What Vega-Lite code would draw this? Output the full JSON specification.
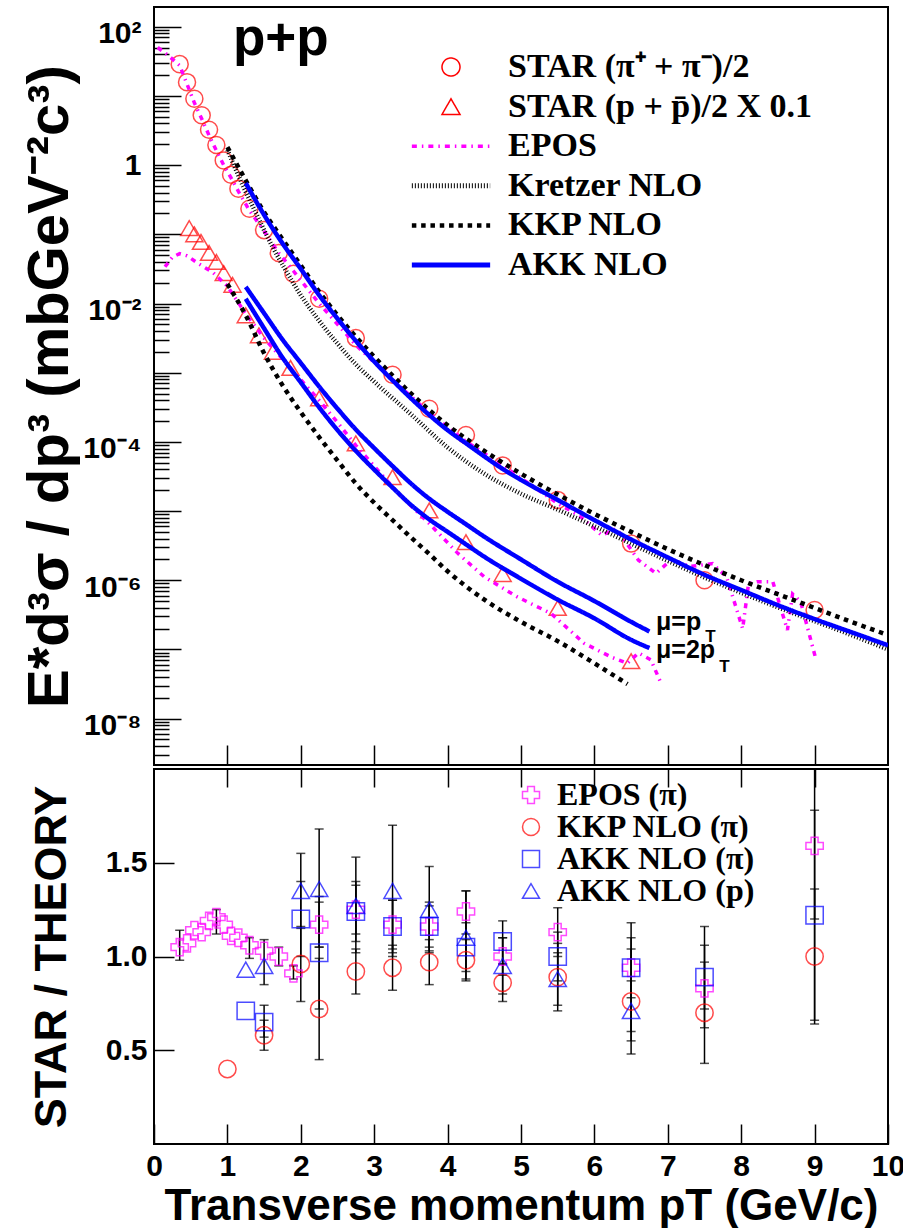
{
 "$schema": "https://vega.github.io/schema/vega-lite/v6.json",
 "background": "white",
 "padding": {"left": 20, "top": 6, "right": 15, "bottom": 0},
 "spacing": 0,
 "datasets": {
  "pts": [
   {"s":"STAR (π⁺ + π⁻)/2","x":0.35,"y":28.8},{"s":"STAR (π⁺ + π⁻)/2","x":0.45,"y":15.8},{"s":"STAR (π⁺ + π⁻)/2","x":0.55,"y":9.12},{"s":"STAR (π⁺ + π⁻)/2","x":0.65,"y":5.25},{"s":"STAR (π⁺ + π⁻)/2","x":0.75,"y":3.24},{"s":"STAR (π⁺ + π⁻)/2","x":0.85,"y":1.95},{"s":"STAR (π⁺ + π⁻)/2","x":0.95,"y":1.17},{"s":"STAR (π⁺ + π⁻)/2","x":1.05,"y":0.724},{"s":"STAR (π⁺ + π⁻)/2","x":1.15,"y":0.457},{"s":"STAR (π⁺ + π⁻)/2","x":1.3,"y":0.234},{"s":"STAR (π⁺ + π⁻)/2","x":1.5,"y":0.115},{"s":"STAR (π⁺ + π⁻)/2","x":1.7,"y":0.0537},{"s":"STAR (π⁺ + π⁻)/2","x":1.9,"y":0.0269},{"s":"STAR (π⁺ + π⁻)/2","x":2.25,"y":0.0117},{"s":"STAR (π⁺ + π⁻)/2","x":2.75,"y":0.00316},{"s":"STAR (π⁺ + π⁻)/2","x":3.25,"y":0.000933},{"s":"STAR (π⁺ + π⁻)/2","x":3.75,"y":0.000302},{"s":"STAR (π⁺ + π⁻)/2","x":4.25,"y":0.000126},{"s":"STAR (π⁺ + π⁻)/2","x":4.75,"y":0.0000457},{"s":"STAR (π⁺ + π⁻)/2","x":5.5,"y":0.0000145},{"s":"STAR (π⁺ + π⁻)/2","x":6.5,"y":0.00000339},{"s":"STAR (π⁺ + π⁻)/2","x":7.5,"y":0.000001},{"s":"STAR (π⁺ + π⁻)/2","x":9.0,"y":0.000000372},
   {"s":"STAR (p + p\u0304)/2 X 0.1","x":0.48,"y":0.123},{"s":"STAR (p + p\u0304)/2 X 0.1","x":0.55,"y":0.1},{"s":"STAR (p + p\u0304)/2 X 0.1","x":0.64,"y":0.0776},{"s":"STAR (p + p\u0304)/2 X 0.1","x":0.75,"y":0.0537},{"s":"STAR (p + p\u0304)/2 X 0.1","x":0.85,"y":0.0398},{"s":"STAR (p + p\u0304)/2 X 0.1","x":0.95,"y":0.0275},{"s":"STAR (p + p\u0304)/2 X 0.1","x":1.07,"y":0.0186},{"s":"STAR (p + p\u0304)/2 X 0.1","x":1.25,"y":0.00676},{"s":"STAR (p + p\u0304)/2 X 0.1","x":1.43,"y":0.00347},{"s":"STAR (p + p\u0304)/2 X 0.1","x":1.62,"y":0.002},{"s":"STAR (p + p\u0304)/2 X 0.1","x":1.86,"y":0.00117},{"s":"STAR (p + p\u0304)/2 X 0.1","x":2.25,"y":0.000427},{"s":"STAR (p + p\u0304)/2 X 0.1","x":2.75,"y":0.0000955},{"s":"STAR (p + p\u0304)/2 X 0.1","x":3.25,"y":0.0000309},{"s":"STAR (p + p\u0304)/2 X 0.1","x":3.75,"y":0.0000102},{"s":"STAR (p + p\u0304)/2 X 0.1","x":4.25,"y":0.00000355},{"s":"STAR (p + p\u0304)/2 X 0.1","x":4.75,"y":0.00000123},{"s":"STAR (p + p\u0304)/2 X 0.1","x":5.5,"y":0.000000398},{"s":"STAR (p + p\u0304)/2 X 0.1","x":6.5,"y":0.0000000676}
  ],
  "curves": [
   {"s":"EPOS","c":"epi","x":0.05,"y":50.1},{"s":"EPOS","c":"epi","x":0.1,"y":45.7},{"s":"EPOS","c":"epi","x":0.2,"y":38.0},{"s":"EPOS","c":"epi","x":0.35,"y":27.5},{"s":"EPOS","c":"epi","x":0.45,"y":14.8},{"s":"EPOS","c":"epi","x":0.55,"y":7.94},{"s":"EPOS","c":"epi","x":0.65,"y":4.68},{"s":"EPOS","c":"epi","x":0.75,"y":2.69},{"s":"EPOS","c":"epi","x":0.85,"y":1.62},{"s":"EPOS","c":"epi","x":0.95,"y":1.0},{"s":"EPOS","c":"epi","x":1.05,"y":0.653},{"s":"EPOS","c":"epi","x":1.15,"y":0.417},{"s":"EPOS","c":"epi","x":1.3,"y":0.221},{"s":"EPOS","c":"epi","x":1.5,"y":0.111},{"s":"EPOS","c":"epi","x":1.7,"y":0.0537},{"s":"EPOS","c":"epi","x":1.9,"y":0.0295},{"s":"EPOS","c":"epi","x":2.25,"y":0.01},{"s":"EPOS","c":"epi","x":2.75,"y":0.00251},{"s":"EPOS","c":"epi","x":3.25,"y":0.000794},{"s":"EPOS","c":"epi","x":3.75,"y":0.000263},{"s":"EPOS","c":"epi","x":4.25,"y":0.000102},{"s":"EPOS","c":"epi","x":4.75,"y":0.0000457},{"s":"EPOS","c":"epi","x":5.5,"y":0.0000129},{"s":"EPOS","c":"epi","x":5.8,"y":0.00000851},{"s":"EPOS","c":"epi","x":6.1,"y":0.00000447},{"s":"EPOS","c":"epi","x":6.3,"y":0.00000562},{"s":"EPOS","c":"epi","x":6.6,"y":0.00000195},{"s":"EPOS","c":"epi","x":6.84,"y":0.00000126},{"s":"EPOS","c":"epi","x":7.05,"y":0.000002},{"s":"EPOS","c":"epi","x":7.3,"y":0.00000158},{"s":"EPOS","c":"epi","x":7.61,"y":0.00000174},{"s":"EPOS","c":"epi","x":7.8,"y":0.00000112},{"s":"EPOS","c":"epi","x":8.02,"y":0.0000002},{"s":"EPOS","c":"epi","x":8.1,"y":0.000000891},{"s":"EPOS","c":"epi","x":8.22,"y":0.000000955},{"s":"EPOS","c":"epi","x":8.43,"y":0.000000955},{"s":"EPOS","c":"epi","x":8.63,"y":0.000000191},{"s":"EPOS","c":"epi","x":8.7,"y":0.000000631},{"s":"EPOS","c":"epi","x":8.81,"y":0.00000049},{"s":"EPOS","c":"epi","x":9.02,"y":0.0000000708},
   {"s":"EPOS","c":"ep","x":0.15,"y":0.0339},{"s":"EPOS","c":"ep","x":0.25,"y":0.0468},{"s":"EPOS","c":"ep","x":0.35,"y":0.0525},{"s":"EPOS","c":"ep","x":0.45,"y":0.049},{"s":"EPOS","c":"ep","x":0.6,"y":0.038},{"s":"EPOS","c":"ep","x":0.8,"y":0.0282},{"s":"EPOS","c":"ep","x":1.0,"y":0.0178},{"s":"EPOS","c":"ep","x":1.25,"y":0.00708},{"s":"EPOS","c":"ep","x":1.5,"y":0.00316},{"s":"EPOS","c":"ep","x":1.78,"y":0.00145},{"s":"EPOS","c":"ep","x":2.0,"y":0.000794},{"s":"EPOS","c":"ep","x":2.25,"y":0.000398},{"s":"EPOS","c":"ep","x":2.5,"y":0.000191},{"s":"EPOS","c":"ep","x":2.75,"y":0.0000891},{"s":"EPOS","c":"ep","x":3.0,"y":0.0000447},{"s":"EPOS","c":"ep","x":3.37,"y":0.0000162},{"s":"EPOS","c":"ep","x":3.75,"y":0.00000661},{"s":"EPOS","c":"ep","x":4.14,"y":0.00000245},{"s":"EPOS","c":"ep","x":4.5,"y":0.00000112},{"s":"EPOS","c":"ep","x":4.95,"y":0.000000575},{"s":"EPOS","c":"ep","x":5.41,"y":0.000000331},{"s":"EPOS","c":"ep","x":5.86,"y":0.000000123},{"s":"EPOS","c":"ep","x":6.23,"y":0.0000000776},{"s":"EPOS","c":"ep","x":6.45,"y":0.0000000631},{"s":"EPOS","c":"ep","x":6.6,"y":0.0000000891},{"s":"EPOS","c":"ep","x":6.77,"y":0.0000000708},{"s":"EPOS","c":"ep","x":6.9,"y":0.0000000339},
   {"s":"Kretzer NLO","c":"kr","x":1.0,"y":1.66},{"s":"Kretzer NLO","c":"kr","x":1.2,"y":0.537},{"s":"Kretzer NLO","c":"kr","x":1.4,"y":0.191},{"s":"Kretzer NLO","c":"kr","x":1.6,"y":0.0708},{"s":"Kretzer NLO","c":"kr","x":1.8,"y":0.0295},{"s":"Kretzer NLO","c":"kr","x":2.0,"y":0.0132},{"s":"Kretzer NLO","c":"kr","x":2.25,"y":0.00562},{"s":"Kretzer NLO","c":"kr","x":2.5,"y":0.00263},{"s":"Kretzer NLO","c":"kr","x":2.75,"y":0.00132},{"s":"Kretzer NLO","c":"kr","x":3.0,"y":0.000741},{"s":"Kretzer NLO","c":"kr","x":3.5,"y":0.000251},{"s":"Kretzer NLO","c":"kr","x":4.0,"y":0.0000832},{"s":"Kretzer NLO","c":"kr","x":4.5,"y":0.0000347},{"s":"Kretzer NLO","c":"kr","x":5.0,"y":0.0000178},{"s":"Kretzer NLO","c":"kr","x":5.5,"y":0.0000105},{"s":"Kretzer NLO","c":"kr","x":6.0,"y":0.00000603},{"s":"Kretzer NLO","c":"kr","x":6.5,"y":0.00000339},{"s":"Kretzer NLO","c":"kr","x":7.0,"y":0.00000191},{"s":"Kretzer NLO","c":"kr","x":7.5,"y":0.0000011},{"s":"Kretzer NLO","c":"kr","x":8.0,"y":0.000000661},{"s":"Kretzer NLO","c":"kr","x":8.5,"y":0.000000407},{"s":"Kretzer NLO","c":"kr","x":9.0,"y":0.000000257},{"s":"Kretzer NLO","c":"kr","x":9.5,"y":0.000000162},{"s":"Kretzer NLO","c":"kr","x":10.0,"y":0.0000001},
   {"s":"KKP NLO","c":"kpi","x":1.0,"y":1.82},{"s":"KKP NLO","c":"kpi","x":1.25,"y":0.603},{"s":"KKP NLO","c":"kpi","x":1.5,"y":0.209},{"s":"KKP NLO","c":"kpi","x":1.75,"y":0.0851},{"s":"KKP NLO","c":"kpi","x":2.0,"y":0.0355},{"s":"KKP NLO","c":"kpi","x":2.25,"y":0.0148},{"s":"KKP NLO","c":"kpi","x":2.5,"y":0.00676},{"s":"KKP NLO","c":"kpi","x":2.75,"y":0.00331},{"s":"KKP NLO","c":"kpi","x":3.0,"y":0.0017},{"s":"KKP NLO","c":"kpi","x":3.25,"y":0.000912},{"s":"KKP NLO","c":"kpi","x":3.5,"y":0.000501},{"s":"KKP NLO","c":"kpi","x":3.75,"y":0.000288},{"s":"KKP NLO","c":"kpi","x":4.0,"y":0.000174},{"s":"KKP NLO","c":"kpi","x":4.5,"y":0.0000741},{"s":"KKP NLO","c":"kpi","x":5.0,"y":0.0000347},{"s":"KKP NLO","c":"kpi","x":5.5,"y":0.0000174},{"s":"KKP NLO","c":"kpi","x":6.0,"y":0.00000912},{"s":"KKP NLO","c":"kpi","x":6.5,"y":0.00000501},{"s":"KKP NLO","c":"kpi","x":7.0,"y":0.00000282},{"s":"KKP NLO","c":"kpi","x":7.5,"y":0.00000166},{"s":"KKP NLO","c":"kpi","x":8.0,"y":0.000001},{"s":"KKP NLO","c":"kpi","x":8.5,"y":0.000000631},{"s":"KKP NLO","c":"kpi","x":9.0,"y":0.000000398},{"s":"KKP NLO","c":"kpi","x":9.5,"y":0.000000251},{"s":"KKP NLO","c":"kpi","x":10.0,"y":0.000000162},
   {"s":"KKP NLO","c":"kp","x":1.0,"y":0.0191},{"s":"KKP NLO","c":"kp","x":1.25,"y":0.00676},{"s":"KKP NLO","c":"kp","x":1.5,"y":0.00191},{"s":"KKP NLO","c":"kp","x":1.75,"y":0.000661},{"s":"KKP NLO","c":"kp","x":2.0,"y":0.000269},{"s":"KKP NLO","c":"kp","x":2.25,"y":0.000117},{"s":"KKP NLO","c":"kp","x":2.5,"y":0.0000537},{"s":"KKP NLO","c":"kp","x":2.75,"y":0.0000251},{"s":"KKP NLO","c":"kp","x":3.0,"y":0.0000132},{"s":"KKP NLO","c":"kp","x":3.25,"y":0.00000741},{"s":"KKP NLO","c":"kp","x":3.5,"y":0.00000417},{"s":"KKP NLO","c":"kp","x":3.75,"y":0.0000024},{"s":"KKP NLO","c":"kp","x":4.0,"y":0.00000135},{"s":"KKP NLO","c":"kp","x":4.5,"y":0.000000525},{"s":"KKP NLO","c":"kp","x":5.0,"y":0.000000251},{"s":"KKP NLO","c":"kp","x":5.5,"y":0.000000132},{"s":"KKP NLO","c":"kp","x":6.0,"y":0.0000000631},{"s":"KKP NLO","c":"kp","x":6.45,"y":0.0000000316},
   {"s":"AKK  NLO","c":"api","x":1.25,"y":0.55},{"s":"AKK  NLO","c":"api","x":1.5,"y":0.191},{"s":"AKK  NLO","c":"api","x":1.75,"y":0.0741},{"s":"AKK  NLO","c":"api","x":2.0,"y":0.0316},{"s":"AKK  NLO","c":"api","x":2.25,"y":0.0132},{"s":"AKK  NLO","c":"api","x":2.5,"y":0.00603},{"s":"AKK  NLO","c":"api","x":2.75,"y":0.00288},{"s":"AKK  NLO","c":"api","x":3.0,"y":0.00145},{"s":"AKK  NLO","c":"api","x":3.25,"y":0.000776},{"s":"AKK  NLO","c":"api","x":3.5,"y":0.000427},{"s":"AKK  NLO","c":"api","x":3.75,"y":0.000245},{"s":"AKK  NLO","c":"api","x":4.0,"y":0.000148},{"s":"AKK  NLO","c":"api","x":4.25,"y":0.0000955},{"s":"AKK  NLO","c":"api","x":4.5,"y":0.0000617},{"s":"AKK  NLO","c":"api","x":4.75,"y":0.0000407},{"s":"AKK  NLO","c":"api","x":5.0,"y":0.0000282},{"s":"AKK  NLO","c":"api","x":5.5,"y":0.0000145},{"s":"AKK  NLO","c":"api","x":6.0,"y":0.00000741},{"s":"AKK  NLO","c":"api","x":6.5,"y":0.00000389},{"s":"AKK  NLO","c":"api","x":7.0,"y":0.00000214},{"s":"AKK  NLO","c":"api","x":7.5,"y":0.0000012},{"s":"AKK  NLO","c":"api","x":8.0,"y":0.000000724},{"s":"AKK  NLO","c":"api","x":8.5,"y":0.000000437},{"s":"AKK  NLO","c":"api","x":9.0,"y":0.000000275},{"s":"AKK  NLO","c":"api","x":9.5,"y":0.000000178},{"s":"AKK  NLO","c":"api","x":10.0,"y":0.000000115},
   {"s":"AKK  NLO","c":"ap1","x":1.25,"y":0.0174},{"s":"AKK  NLO","c":"ap1","x":1.5,"y":0.00724},{"s":"AKK  NLO","c":"ap1","x":1.75,"y":0.00302},{"s":"AKK  NLO","c":"ap1","x":2.0,"y":0.00138},{"s":"AKK  NLO","c":"ap1","x":2.25,"y":0.000631},{"s":"AKK  NLO","c":"ap1","x":2.5,"y":0.000302},{"s":"AKK  NLO","c":"ap1","x":2.75,"y":0.000151},{"s":"AKK  NLO","c":"ap1","x":3.0,"y":0.0000813},{"s":"AKK  NLO","c":"ap1","x":3.25,"y":0.0000447},{"s":"AKK  NLO","c":"ap1","x":3.5,"y":0.0000251},{"s":"AKK  NLO","c":"ap1","x":3.75,"y":0.0000151},{"s":"AKK  NLO","c":"ap1","x":4.0,"y":0.00000977},{"s":"AKK  NLO","c":"ap1","x":4.25,"y":0.00000646},{"s":"AKK  NLO","c":"ap1","x":4.5,"y":0.00000427},{"s":"AKK  NLO","c":"ap1","x":5.0,"y":0.000002},{"s":"AKK  NLO","c":"ap1","x":5.5,"y":0.000000955},{"s":"AKK  NLO","c":"ap1","x":6.0,"y":0.000000501},{"s":"AKK  NLO","c":"ap1","x":6.5,"y":0.000000251},{"s":"AKK  NLO","c":"ap1","x":6.75,"y":0.000000182},
   {"s":"AKK  NLO","c":"ap2","x":1.25,"y":0.0117},{"s":"AKK  NLO","c":"ap2","x":1.5,"y":0.00437},{"s":"AKK  NLO","c":"ap2","x":1.75,"y":0.00166},{"s":"AKK  NLO","c":"ap2","x":2.0,"y":0.000724},{"s":"AKK  NLO","c":"ap2","x":2.25,"y":0.000316},{"s":"AKK  NLO","c":"ap2","x":2.5,"y":0.000148},{"s":"AKK  NLO","c":"ap2","x":2.75,"y":0.0000741},{"s":"AKK  NLO","c":"ap2","x":3.0,"y":0.0000398},{"s":"AKK  NLO","c":"ap2","x":3.25,"y":0.0000219},{"s":"AKK  NLO","c":"ap2","x":3.5,"y":0.0000123},{"s":"AKK  NLO","c":"ap2","x":3.75,"y":0.00000759},{"s":"AKK  NLO","c":"ap2","x":4.0,"y":0.00000501},{"s":"AKK  NLO","c":"ap2","x":4.25,"y":0.00000331},{"s":"AKK  NLO","c":"ap2","x":4.5,"y":0.00000219},{"s":"AKK  NLO","c":"ap2","x":5.0,"y":0.00000105},{"s":"AKK  NLO","c":"ap2","x":5.5,"y":0.000000525},{"s":"AKK  NLO","c":"ap2","x":6.0,"y":0.000000282},{"s":"AKK  NLO","c":"ap2","x":6.5,"y":0.000000138},{"s":"AKK  NLO","c":"ap2","x":6.75,"y":0.000000105}
  ],
  "ratio": [
   {"m":"EPOS (π)","x":0.35,"r":1.05},{"m":"EPOS (π)","x":0.45,"r":1.07},{"m":"EPOS (π)","x":0.55,"r":1.14},{"m":"EPOS (π)","x":0.65,"r":1.13},{"m":"EPOS (π)","x":0.75,"r":1.19},{"m":"EPOS (π)","x":0.85,"r":1.21},{"m":"EPOS (π)","x":0.95,"r":1.17},{"m":"EPOS (π)","x":1.05,"r":1.11},{"m":"EPOS (π)","x":1.15,"r":1.1},{"m":"EPOS (π)","x":1.3,"r":1.06},{"m":"EPOS (π)","x":1.5,"r":1.03},{"m":"EPOS (π)","x":1.7,"r":1.0},{"m":"EPOS (π)","x":1.9,"r":0.91},{"m":"EPOS (π)","x":2.25,"r":1.17},{"m":"EPOS (π)","x":2.75,"r":1.25},{"m":"EPOS (π)","x":3.25,"r":1.17},{"m":"EPOS (π)","x":3.75,"r":1.16},{"m":"EPOS (π)","x":4.25,"r":1.24},{"m":"EPOS (π)","x":4.75,"r":1.0},{"m":"EPOS (π)","x":5.5,"r":1.13},{"m":"EPOS (π)","x":6.5,"r":0.94},{"m":"EPOS (π)","x":7.5,"r":0.83},{"m":"EPOS (π)","x":9.0,"r":1.59},
   {"m":"KKP NLO (π)","x":1.0,"r":0.4},{"m":"KKP NLO (π)","x":1.5,"r":0.58},{"m":"KKP NLO (π)","x":2.0,"r":0.96},{"m":"KKP NLO (π)","x":2.25,"r":0.72},{"m":"KKP NLO (π)","x":2.75,"r":0.92},{"m":"KKP NLO (π)","x":3.25,"r":0.94},{"m":"KKP NLO (π)","x":3.75,"r":0.97},{"m":"KKP NLO (π)","x":4.25,"r":0.98},{"m":"KKP NLO (π)","x":4.75,"r":0.86},{"m":"KKP NLO (π)","x":5.5,"r":0.89},{"m":"KKP NLO (π)","x":6.5,"r":0.76},{"m":"KKP NLO (π)","x":7.5,"r":0.7},{"m":"KKP NLO (π)","x":9.0,"r":1.0},
   {"m":"AKK NLO (π)","x":1.25,"r":0.71},{"m":"AKK NLO (π)","x":1.5,"r":0.65},{"m":"AKK NLO (π)","x":2.0,"r":1.2},{"m":"AKK NLO (π)","x":2.25,"r":1.02},{"m":"AKK NLO (π)","x":2.75,"r":1.24},{"m":"AKK NLO (π)","x":3.25,"r":1.16},{"m":"AKK NLO (π)","x":3.75,"r":1.16},{"m":"AKK NLO (π)","x":4.25,"r":1.05},{"m":"AKK NLO (π)","x":4.75,"r":1.08},{"m":"AKK NLO (π)","x":5.5,"r":1.0},{"m":"AKK NLO (π)","x":6.5,"r":0.94},{"m":"AKK NLO (π)","x":7.5,"r":0.89},{"m":"AKK NLO (π)","x":9.0,"r":1.22},
   {"m":"AKK NLO (p)","x":1.25,"r":0.93},{"m":"AKK NLO (p)","x":1.5,"r":0.95},{"m":"AKK NLO (p)","x":2.0,"r":1.35},{"m":"AKK NLO (p)","x":2.25,"r":1.36},{"m":"AKK NLO (p)","x":2.75,"r":1.27},{"m":"AKK NLO (p)","x":3.25,"r":1.35},{"m":"AKK NLO (p)","x":3.75,"r":1.25},{"m":"AKK NLO (p)","x":4.25,"r":1.1},{"m":"AKK NLO (p)","x":4.75,"r":0.95},{"m":"AKK NLO (p)","x":5.5,"r":0.88},{"m":"AKK NLO (p)","x":6.5,"r":0.71}
  ],
  "err": [
   {"x":0.35,"lo":0.98,"hi":1.14},{"x":0.85,"lo":1.12,"hi":1.25},{"x":1.3,"lo":0.99,"hi":1.1},{"x":1.7,"lo":0.95,"hi":1.05},{"x":1.9,"lo":0.88,"hi":0.95},{"x":2.25,"lo":1.05,"hi":1.29},{"x":2.75,"lo":1.12,"hi":1.38},{"x":3.25,"lo":1.04,"hi":1.3},{"x":3.75,"lo":1.05,"hi":1.27},{"x":4.25,"lo":1.12,"hi":1.35},{"x":4.75,"lo":0.9,"hi":1.1},{"x":5.5,"lo":1.0,"hi":1.26},{"x":6.5,"lo":0.6,"hi":1.18},{"x":7.5,"lo":0.62,"hi":1.16},{"x":9.0,"lo":1.2,"hi":2.4},
   {"x":1.5,"lo":0.5,"hi":0.66},{"x":2.0,"lo":0.76,"hi":1.16},{"x":2.25,"lo":0.45,"hi":0.99},{"x":2.75,"lo":0.8,"hi":1.04},{"x":3.25,"lo":0.82,"hi":1.06},{"x":3.75,"lo":0.85,"hi":1.09},{"x":4.25,"lo":0.87,"hi":1.09},{"x":4.75,"lo":0.76,"hi":0.96},{"x":5.5,"lo":0.71,"hi":1.07},{"x":6.5,"lo":0.48,"hi":1.04},{"x":7.5,"lo":0.43,"hi":0.97},{"x":9.0,"lo":0.64,"hi":1.36},
   {"x":1.5,"lo":0.57,"hi":0.74},{"x":2.0,"lo":1.0,"hi":1.4},{"x":2.25,"lo":0.72,"hi":1.32},{"x":2.75,"lo":1.08,"hi":1.4},{"x":3.25,"lo":1.02,"hi":1.3},{"x":3.75,"lo":1.03,"hi":1.29},{"x":4.25,"lo":0.92,"hi":1.18},{"x":4.75,"lo":0.96,"hi":1.19},{"x":5.5,"lo":0.87,"hi":1.13},{"x":6.5,"lo":0.78,"hi":1.1},{"x":7.5,"lo":0.72,"hi":1.06},{"x":9.0,"lo":0.66,"hi":1.78},
   {"x":1.5,"lo":0.85,"hi":1.09},{"x":2.0,"lo":1.15,"hi":1.55},{"x":2.25,"lo":1.05,"hi":1.68},{"x":2.75,"lo":1.02,"hi":1.53},{"x":3.25,"lo":1.0,"hi":1.7},{"x":3.75,"lo":1.02,"hi":1.48},{"x":4.25,"lo":0.88,"hi":1.35},{"x":4.75,"lo":0.8,"hi":1.1},{"x":5.5,"lo":0.74,"hi":1.02},{"x":6.5,"lo":0.55,"hi":0.87}
  ]
 },
 "vconcat": [
  {
   "width": 734,
   "height": 758,
   "layer": [
    {
     "data": {"name": "pts"},
     "mark": {"type": "point", "filled": false, "strokeWidth": 1.5, "size": 290, "clip": true},
     "encoding": {
      "x": {"field": "x", "type": "quantitative", "scale": {"domain": [0, 10], "nice": false, "zero": false},
            "axis": {"orient": "bottom", "values": [1,2,3,4,5,6,7,8,9], "tickSize": -20, "labels": false, "title": null}},
      "y": {"field": "y", "type": "quantitative", "scale": {"type": "log", "domain": [2.14e-9, 192.8], "nice": false},
            "axis": {"orient": "left", "values": [1e-8,1e-7,1e-6,1e-5,1e-4,0.001,0.01,0.1,1,10,100], "tickSize": -27, "labelPadding": 40,
                     "labelExpr": "datum.value > 50 ? '10²' : (datum.value > 0.5 && datum.value < 5) ? '1' : (datum.value > 0.005 && datum.value < 0.05) ? '10⁻²' : (datum.value > 0.00005 && datum.value < 0.0005) ? '10⁻⁴' : (datum.value > 0.0000005 && datum.value < 0.000005) ? '10⁻⁶' : (datum.value > 0.000000005 && datum.value < 0.00000005) ? '10⁻⁸' : ''",
                     "labelOffset": {"condition": {"test": "datum.value > 0.5 && datum.value < 5", "value": 0}, "value": 7},
                     "title": "E*d³σ / dp³ (mbGeV⁻²c³)", "titleFontSize": 58, "titleX": -104, "titleBaseline": "middle"}},
      "color": {"field": "s", "type": "nominal",
                "scale": {"domain": ["STAR (π⁺ + π⁻)/2","STAR (p + p\u0304)/2 X 0.1","EPOS","Kretzer NLO","KKP NLO","AKK  NLO"], "range": ["#ff0000","#ff0000","#ff00ff","#000000","#000000","#0000ff"]},
                "legend": {"title": null, "orient": "none", "legendX": 280, "legendY": 43, "symbolSize": 324, "labelOffset": 40, "labelFontSize": 34, "rowPadding": 5.6,
                           "encode": {"symbols": {"update": {"strokeWidth": {"signal": "datum.value == 'EPOS' ? 3.5 : datum.value == 'Kretzer NLO' ? 5 : datum.value == 'KKP NLO' ? 4.5 : datum.value == 'AKK  NLO' ? 5 : 1.5"}}}}}},
      "shape": {"field": "s", "type": "nominal",
                "scale": {"domain": ["STAR (π⁺ + π⁻)/2","STAR (p + p\u0304)/2 X 0.1","EPOS","Kretzer NLO","KKP NLO","AKK  NLO"], "range": ["circle","triangle-up","M-4.35,0H4.35","M-4.35,0H4.35","M-4.35,0H4.35","M-4.35,0H4.35"]},
                "legend": {"title": null, "orient": "none", "legendX": 280, "legendY": 43, "symbolSize": 324, "labelOffset": 40, "labelFontSize": 34, "rowPadding": 5.6,
                           "encode": {"symbols": {"update": {"strokeWidth": {"signal": "datum.value == 'EPOS' ? 3.5 : datum.value == 'Kretzer NLO' ? 5 : datum.value == 'KKP NLO' ? 4.5 : datum.value == 'AKK  NLO' ? 5 : 1.5"}}}}}}
     }
    },
    {
     "data": {"name": "curves"},
     "transform": [{"filter": "datum.s == 'EPOS'"}],
     "mark": {"type": "line", "strokeWidth": 3.5, "clip": true},
     "encoding": {
      "x": {"field": "x", "type": "quantitative"},
      "y": {"field": "y", "type": "quantitative",
            "axis": {"orient": "left", "tickSize": -15, "labels": false, "title": null,
                     "values": [3e-9,4e-9,5e-9,6e-9,7e-9,8e-9,9e-9,2e-8,3e-8,4e-8,5e-8,6e-8,7e-8,8e-8,9e-8,2e-7,3e-7,4e-7,5e-7,6e-7,7e-7,8e-7,9e-7,2e-6,3e-6,4e-6,5e-6,6e-6,7e-6,8e-6,9e-6,2e-5,3e-5,4e-5,5e-5,6e-5,7e-5,8e-5,9e-5,2e-4,3e-4,4e-4,5e-4,6e-4,7e-4,8e-4,9e-4,0.002,0.003,0.004,0.005,0.006,0.007,0.008,0.009,0.02,0.03,0.04,0.05,0.06,0.07,0.08,0.09,0.2,0.3,0.4,0.5,0.6,0.7,0.8,0.9,2,3,4,5,6,7,8,9,20,30,40,50,60,70,80,90]}},
      "color": {"field": "s", "type": "nominal"},
      "strokeDash": {"field": "s", "type": "nominal",
                     "scale": {"domain": ["STAR (π⁺ + π⁻)/2","STAR (p + p\u0304)/2 X 0.1","EPOS","Kretzer NLO","KKP NLO","AKK  NLO"], "range": [[1,0],[1,0],[5,5,1.5,5],[1,2],[4.5,4.8],[1,0]]},
                     "legend": {"title": null, "orient": "none", "legendX": 280, "legendY": 43, "symbolSize": 324, "labelOffset": 40, "labelFontSize": 34, "rowPadding": 5.6,
                                "encode": {"symbols": {"update": {"strokeWidth": {"signal": "datum.value == 'EPOS' ? 3.5 : datum.value == 'Kretzer NLO' ? 5 : datum.value == 'KKP NLO' ? 4.5 : datum.value == 'AKK  NLO' ? 5 : 1.5"}}}}}},
      "detail": {"field": "c"}
     }
    },
    {
     "data": {"name": "curves"},
     "transform": [{"filter": "datum.s == 'Kretzer NLO'"}],
     "mark": {"type": "line", "strokeWidth": 4.5, "interpolate": "monotone", "clip": true},
     "encoding": {
      "x": {"field": "x", "type": "quantitative"},
      "y": {"field": "y", "type": "quantitative", "axis": null},
      "color": {"field": "s", "type": "nominal"},
      "strokeDash": {"field": "s", "type": "nominal"},
      "detail": {"field": "c"}
     }
    },
    {
     "data": {"name": "curves"},
     "transform": [{"filter": "datum.s == 'KKP NLO'"}],
     "mark": {"type": "line", "strokeWidth": 4.5, "interpolate": "monotone", "clip": true},
     "encoding": {
      "x": {"field": "x", "type": "quantitative"},
      "y": {"field": "y", "type": "quantitative", "axis": null},
      "color": {"field": "s", "type": "nominal"},
      "strokeDash": {"field": "s", "type": "nominal"},
      "detail": {"field": "c"}
     }
    },
    {
     "data": {"name": "curves"},
     "transform": [{"filter": "datum.s == 'AKK  NLO'"}],
     "mark": {"type": "line", "strokeWidth": 4.5, "interpolate": "monotone", "clip": true},
     "encoding": {
      "x": {"field": "x", "type": "quantitative"},
      "y": {"field": "y", "type": "quantitative", "axis": null},
      "color": {"field": "s", "type": "nominal"},
      "strokeDash": {"field": "s", "type": "nominal"},
      "detail": {"field": "c"}
     }
    },
    {
     "data": {"values": [{"t": "p+p", "x": 1.076, "y": 38.9}]},
     "mark": {"type": "text", "align": "left", "baseline": "alphabetic", "font": "Liberation Sans", "fontWeight": "bold", "fontSize": 53, "color": "black"},
     "encoding": {
      "x": {"field": "x", "type": "quantitative"},
      "y": {"field": "y", "type": "quantitative", "axis": null},
      "text": {"field": "t"}
     }
    },
    {
     "data": {"values": [{"t": "μ=p", "x": 6.84, "y": 1.91e-7}, {"t": "μ=2p", "x": 6.84, "y": 7.56e-8}]},
     "mark": {"type": "text", "align": "left", "baseline": "alphabetic", "font": "Liberation Sans", "fontWeight": "bold", "fontSize": 25, "color": "black"},
     "encoding": {
      "x": {"field": "x", "type": "quantitative"},
      "y": {"field": "y", "type": "quantitative", "axis": null},
      "text": {"field": "t"}
     }
    },
    {
     "data": {"values": [{"t": "T", "x": 7.51, "y": 1.28e-7}, {"t": "T", "x": 7.7, "y": 4.7e-8}]},
     "mark": {"type": "text", "align": "left", "baseline": "alphabetic", "font": "Liberation Sans", "fontWeight": "bold", "fontSize": 17, "color": "black"},
     "encoding": {
      "x": {"field": "x", "type": "quantitative"},
      "y": {"field": "y", "type": "quantitative", "axis": null},
      "text": {"field": "t"}
     }
    }
   ],
   "resolve": {"axis": {"y": "independent"}}
  },
  {
   "width": 734,
   "height": 375,
   "layer": [
    {
     "data": {"name": "err"},
     "mark": {"type": "rule", "strokeWidth": 1.5, "color": "black", "clip": true},
     "encoding": {
      "x": {"field": "x", "type": "quantitative", "scale": {"domain": [0, 10], "nice": false, "zero": false},
            "axis": {"orient": "bottom", "values": [0,1,2,3,4,5,6,7,8,9,10], "tickSize": -20, "labelPadding": 27, "title": "Transverse momentum pT (GeV/c)", "titleFontSize": 44, "titlePadding": 3}},
      "y": {"field": "lo", "type": "quantitative", "scale": {"domain": [0, 2], "nice": false, "zero": false},
            "axis": {"orient": "left", "values": [0.5, 1, 1.5], "format": ".1f", "tickSize": -20, "labelPadding": 27, "title": "STAR / THEORY", "titleFontSize": 45, "titleX": -103, "titleBaseline": "middle"}},
      "y2": {"field": "hi"}
     }
    },
    {
     "data": {"name": "err"},
     "mark": {"type": "tick", "orient": "horizontal", "size": 9, "thickness": 1.5, "color": "black", "clip": true},
     "encoding": {
      "x": {"field": "x", "type": "quantitative", "axis": null},
      "y": {"field": "lo", "type": "quantitative"}
     }
    },
    {
     "data": {"name": "err"},
     "mark": {"type": "tick", "orient": "horizontal", "size": 9, "thickness": 1.5, "color": "black", "clip": true},
     "encoding": {
      "x": {"field": "x", "type": "quantitative",
            "axis": {"orient": "top", "values": [1,2,3,4,5,6,7,8,9], "tickSize": -18, "labels": false, "title": null}},
      "y": {"field": "hi", "type": "quantitative"}
     }
    },
    {
     "mark": {"type": "rule", "strokeWidth": 3, "color": "black"},
     "encoding": {"y": {"datum": 1}}
    },
    {
     "mark": {"type": "rule", "strokeWidth": 3.5, "color": "black"},
     "encoding": {"y": {"datum": 2}}
    },
    {
     "data": {"name": "ratio"},
     "mark": {"type": "point", "filled": false, "strokeWidth": 1.5, "size": 300, "clip": true},
     "encoding": {
      "x": {"field": "x", "type": "quantitative", "axis": null},
      "y": {"field": "r", "type": "quantitative"},
      "color": {"field": "m", "type": "nominal",
                "scale": {"domain": ["EPOS (π)","KKP NLO (π)","AKK NLO (π)","AKK NLO (p)"], "range": ["#ff00ff","#ff0000","#0000ff","#0000ff"]},
                "legend": {"title": null, "orient": "none", "legendX": 361, "legendY": 10, "symbolSize": 289, "labelOffset": 10, "labelFontSize": 32, "rowPadding": 0, "symbolStrokeWidth": 1.5}},
      "shape": {"field": "m", "type": "nominal",
                "scale": {"domain": ["EPOS (π)","KKP NLO (π)","AKK NLO (π)","AKK NLO (p)"], "range": ["cross","circle","square","triangle-up"]},
                "legend": {"title": null, "orient": "none", "legendX": 361, "legendY": 10, "symbolSize": 289, "labelOffset": 10, "labelFontSize": 32, "rowPadding": 0, "symbolStrokeWidth": 1.5}}
     }
    }
   ],
   "resolve": {"axis": {"x": "independent"}}
  }
 ],
 "resolve": {
  "scale": {"x": "independent", "y": "independent", "color": "independent", "shape": "independent", "strokeDash": "independent"},
  "axis": {"x": "independent", "y": "independent"},
  "legend": {"color": "independent", "shape": "independent", "strokeDash": "independent"}
 },
 "config": {
  "view": {"stroke": "black", "strokeWidth": 2},
  "axis": {"domain": false, "grid": false, "tickColor": "black", "tickWidth": 1.5, "labelColor": "black", "labelFont": "Liberation Sans", "labelFontWeight": "bold", "labelFontSize": 30, "titleColor": "black", "titleFont": "Liberation Sans", "titleFontWeight": "bold", "labelOverlap": false, "labelFlush": false, "labelBound": false},
  "legend": {"padding": 0, "labelColor": "black", "labelFont": "Liberation Serif", "labelFontWeight": "bold", "labelLimit": 700}
 }
}
